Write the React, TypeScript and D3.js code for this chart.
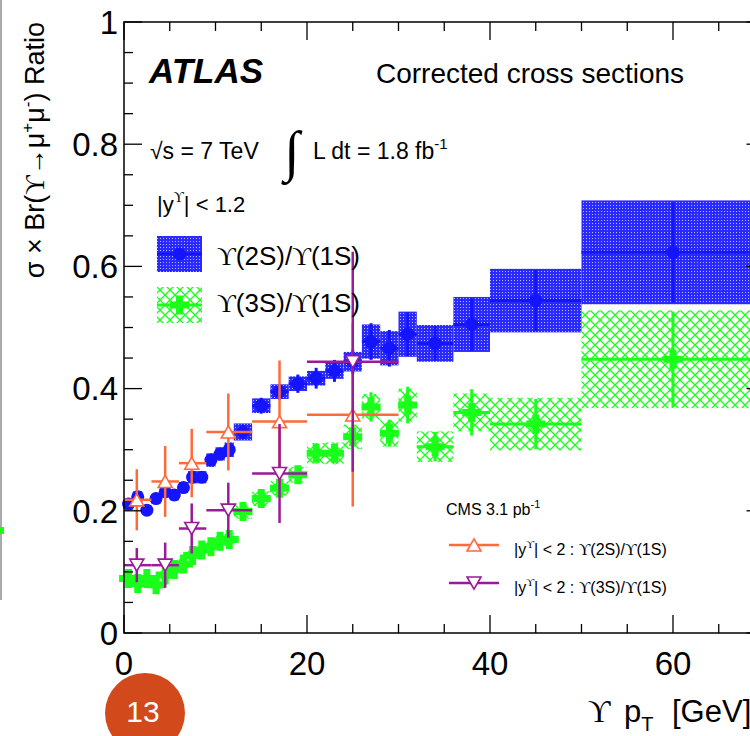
import React from "react";
import * as d3 from "d3";

const W = 750;
const H = 736;

// ATLAS |y|<1.2 bins (pT, GeV)
const binLow = [0, 1, 2, 3, 4, 5, 6, 7, 8, 9, 10, 11, 12, 14, 16, 18, 20, 22, 24, 26, 28, 30, 32, 36, 40, 50];
const binHigh = [1, 2, 3, 4, 5, 6, 7, 8, 9, 10, 11, 12, 14, 16, 18, 20, 22, 24, 26, 28, 30, 32, 36, 40, 50, 70];

// Upsilon(2S)/Upsilon(1S)
const ratio2S = [0.211, 0.223, 0.201, 0.22, 0.231, 0.226, 0.238, 0.255, 0.255, 0.283, 0.293, 0.3, 0.329, 0.372, 0.395, 0.408, 0.417, 0.429, 0.444, 0.477, 0.466, 0.489, 0.474, 0.505, 0.544, 0.623];
const stat2S = [0.008, 0.007, 0.007, 0.007, 0.007, 0.007, 0.007, 0.008, 0.008, 0.009, 0.01, 0.011, 0.012, 0.013, 0.013, 0.015, 0.017, 0.018, 0.02, 0.03, 0.03, 0.036, 0.028, 0.043, 0.05, 0.082];
const sys2S = [0.009, 0.009, 0.008, 0.008, 0.008, 0.009, 0.009, 0.01, 0.01, 0.011, 0.011, 0.012, 0.014, 0.012, 0.012, 0.012, 0.012, 0.013, 0.016, 0.028, 0.028, 0.037, 0.03, 0.045, 0.052, 0.085];

// Upsilon(3S)/Upsilon(1S)
const ratio3S = [0.089, 0.081, 0.089, 0.079, 0.095, 0.104, 0.113, 0.127, 0.136, 0.141, 0.15, 0.153, 0.199, 0.22, 0.237, 0.259, 0.294, 0.294, 0.321, 0.37, 0.327, 0.373, 0.305, 0.361, 0.342, 0.448];
const stat3S = [0.006, 0.006, 0.006, 0.006, 0.006, 0.007, 0.007, 0.008, 0.008, 0.009, 0.01, 0.011, 0.011, 0.012, 0.012, 0.013, 0.014, 0.015, 0.017, 0.024, 0.022, 0.03, 0.024, 0.038, 0.041, 0.078];
const sys3S = [0.007, 0.007, 0.007, 0.007, 0.007, 0.007, 0.008, 0.008, 0.008, 0.009, 0.009, 0.01, 0.012, 0.012, 0.012, 0.013, 0.017, 0.018, 0.02, 0.021, 0.022, 0.027, 0.025, 0.031, 0.043, 0.08];

// CMS 3.1 pb-1, |y|<2
const cmsLow = [0, 3, 6, 9, 14, 20];
const cmsHigh = [3, 6, 9, 14, 20, 30];
const cmsPt = [1.4, 4.5, 7.4, 11.4, 17, 25];
const cms2S = [0.218, 0.248, 0.278, 0.329, 0.346, 0.357];
const cms2SErr = [0.05, 0.058, 0.056, 0.063, 0.1, 0.15];
const cms3S = [0.111, 0.111, 0.171, 0.201, 0.261, 0.444];
const cms3SErr = [0.028, 0.037, 0.041, 0.045, 0.081, 0.18];

const xTicks = [0, 20, 40, 60];
const yTicks = [0, 0.2, 0.4, 0.6, 0.8, 1];
const yTickLabels = ["0", "0.2", "0.4", "0.6", "0.8", "1"];

const BLUE = "#1414ff";
const GREEN = "#1aff1a";
const ORANGE = "#ff6a3a";
const PURPLE = "#9a1a9a";
const SANS = "'Liberation Sans', Arial, Helvetica, sans-serif";
const SERIF = "'Liberation Serif', 'DejaVu Serif', serif";

const x = d3.scaleLinear().domain([0, 70]).range([124, 764.5]);
const y = d3.scaleLinear().domain([0, 1]).range([633, 22]);

const crossPath = (cx: number, cy: number, s = 19, a = 7) => {
  const h = s / 2, b = a / 2;
  const pts = [[-b, -h], [b, -h], [b, -b], [h, -b], [h, b], [b, b], [b, h], [-b, h], [-b, b], [-h, b], [-h, -b], [-b, -b]];
  return "M" + pts.map((p) => `${cx + p[0]},${cy + p[1]}`).join("L") + "Z";
};

const triPath = (cx: number, cy: number, up: boolean, s = 14) => {
  const h = s * 0.866;
  const d = up ? 1 : -1;
  return `M${cx},${cy - (d * h) / 2}L${cx - s / 2},${cy + (d * h) / 2}L${cx + s / 2},${cy + (d * h) / 2}Z`;
};

const Ups = ({ size }: { size?: number }) => (
  <tspan fontFamily={SERIF} fontSize={size}>ϒ</tspan>
);

export default function App() {
  const mid = (i: number) => (binLow[i] + binHigh[i]) / 2;
  const minorX = d3.range(0, 70.01, 5);
  const minorY = d3.range(0, 1.001, 0.05);

  return (
    <svg width={W} height={H} style={{ position: "absolute", left: 0, top: 0, background: "#fff" }}>
      <defs>
        <pattern id="dots" width="3" height="3" patternUnits="userSpaceOnUse">
          <rect width="3" height="3" fill="#2a2aff" />
          <rect x="1" y="1" width="1" height="1" fill="#b8b8ff" />
        </pattern>
        <pattern id="hatch" width="10" height="10" patternUnits="userSpaceOnUse">
          <path d="M0,0L10,10M10,0L0,10" stroke={GREEN} strokeWidth="1.3" />
        </pattern>
      </defs>

      {/* neighbouring slide edge */}
      <line x1={1} x2={1} y1={0} y2={600} stroke="#aaa" strokeWidth={2} />
      <rect x={0} y={527} width={4} height={7} fill={GREEN} />

      {/* systematic boxes */}
      {binLow.map((lo, i) => (
        <rect key={"b2" + i} x={x(lo)} width={x(binHigh[i]) - x(lo)} y={y(ratio2S[i] + sys2S[i])}
          height={y(ratio2S[i] - sys2S[i]) - y(ratio2S[i] + sys2S[i])} fill="url(#dots)" />
      ))}
      {binLow.map((lo, i) => (
        <rect key={"b3" + i} x={x(lo)} width={x(binHigh[i]) - x(lo)} y={y(ratio3S[i] + sys3S[i])}
          height={y(ratio3S[i] - sys3S[i]) - y(ratio3S[i] + sys3S[i])} fill="url(#hatch)" />
      ))}

      {/* 3S points */}
      {binLow.map((lo, i) => (
        <g key={"p3" + i}>
          <line x1={x(lo)} x2={x(binHigh[i])} y1={y(ratio3S[i])} y2={y(ratio3S[i])} stroke={GREEN} strokeWidth={3} />
          <line x1={x(mid(i))} x2={x(mid(i))} y1={y(ratio3S[i] - stat3S[i])} y2={y(ratio3S[i] + stat3S[i])} stroke={GREEN} strokeWidth={3} />
          <path d={crossPath(x(mid(i)), y(ratio3S[i]))} fill={GREEN} />
        </g>
      ))}

      {/* 2S points */}
      {binLow.map((lo, i) => (
        <g key={"p2" + i}>
          <line x1={x(lo)} x2={x(binHigh[i])} y1={y(ratio2S[i])} y2={y(ratio2S[i])} stroke={BLUE} strokeWidth={3} />
          <line x1={x(mid(i))} x2={x(mid(i))} y1={y(ratio2S[i] - stat2S[i])} y2={y(ratio2S[i] + stat2S[i])} stroke={BLUE} strokeWidth={3} />
          <circle cx={x(mid(i))} cy={y(ratio2S[i])} r={6.5} fill={BLUE} />
        </g>
      ))}

      {/* CMS */}
      {cmsPt.map((pt, i) => (
        <g key={"c2" + i} stroke={ORANGE} strokeWidth={2.5}>
          <line x1={x(cmsLow[i])} x2={x(cmsHigh[i])} y1={y(cms2S[i])} y2={y(cms2S[i])} />
          <line x1={x(pt)} x2={x(pt)} y1={y(cms2S[i] - cms2SErr[i])} y2={y(cms2S[i] + cms2SErr[i])} />
          <path d={triPath(x(pt), y(cms2S[i]), true)} fill="#fff" strokeWidth={1.6} />
        </g>
      ))}
      {cmsPt.map((pt, i) => (
        <g key={"c3" + i} stroke={PURPLE} strokeWidth={2.5}>
          <line x1={x(cmsLow[i])} x2={x(cmsHigh[i])} y1={y(cms3S[i])} y2={y(cms3S[i])} />
          <line x1={x(pt)} x2={x(pt)} y1={y(cms3S[i] - cms3SErr[i])} y2={y(cms3S[i] + cms3SErr[i])} />
          <path d={triPath(x(pt), y(cms3S[i]), false)} fill="#fff" strokeWidth={1.6} />
        </g>
      ))}

      {/* frame and ticks */}
      <rect x={x(0)} y={y(1)} width={x(70) - x(0)} height={y(0) - y(1)} fill="none" stroke="#000" strokeWidth={1.5} />
      {minorX.map((v) => {
        const len = v % 20 === 0 ? 18 : 9;
        return (
          <g key={"tx" + v} stroke="#000" strokeWidth={1.3}>
            <line x1={x(v)} x2={x(v)} y1={y(0)} y2={y(0) - len} />
            <line x1={x(v)} x2={x(v)} y1={y(1)} y2={y(1) + len} />
          </g>
        );
      })}
      {minorY.map((v, k) => {
        const len = k % 4 === 0 ? 18 : 9;
        return (
          <g key={"ty" + k} stroke="#000" strokeWidth={1.3}>
            <line x1={x(0)} x2={x(0) + len} y1={y(v)} y2={y(v)} />
            <line x1={x(70)} x2={x(70) - len} y1={y(v)} y2={y(v)} />
          </g>
        );
      })}
      {yTicks.map((v, k) => (
        <text key={"yl" + k} x={118} y={y(v)} dy="0.36em" textAnchor="end" fontFamily={SANS} fontSize={33}>
          {yTickLabels[k]}
        </text>
      ))}
      {xTicks.map((v) => (
        <text key={"xl" + v} x={x(v)} y={675} textAnchor="middle" fontFamily={SANS} fontSize={33}>
          {v}
        </text>
      ))}

      {/* axis titles */}
      <text transform="translate(44,22) rotate(-90)" textAnchor="end" fontFamily={SANS} fontSize={27}>
        σ × Br(<Ups />→μ<tspan dy={-11} fontSize={17}>+</tspan>
        <tspan dy={11}>μ</tspan>
        <tspan dy={-11} fontSize={17}>-</tspan>
        <tspan dy={11}>) Ratio</tspan>
      </text>
      <text y={722} fontFamily={SANS} fontSize={31}>
        <tspan x={588} fontFamily={SERIF}>ϒ</tspan>
        <tspan x={624}>p</tspan>
        <tspan dy={9} fontSize={20}>T</tspan>
        <tspan dy={-9} x={672}>[GeV]</tspan>
      </text>

      {/* labels */}
      <text x={149} y={83} fontFamily={SANS} fontSize={35} fontWeight="bold" fontStyle="italic">ATLAS</text>
      <text x={376} y={83} fontFamily={SANS} fontSize={28}>Corrected cross sections</text>
      <text x={150} y={159} fontFamily={SANS} fontSize={23}>√s = 7 TeV</text>
      <text x={284} y={170} fontFamily={SERIF} fontSize={56}>∫</text>
      <text x={313} y={159} fontFamily={SANS} fontSize={23}>
        L dt = 1.8 fb<tspan dy={-10} fontSize={15}>-1</tspan>
      </text>
      <text x={157} y={212} fontFamily={SANS} fontSize={22}>
        |y<tspan dy={-10} fontSize={14} fontFamily={SERIF}>ϒ</tspan>
        <tspan dy={10}>| &lt; 1.2</tspan>
      </text>

      {/* ATLAS legend */}
      <rect x={157} y={236} width={45} height={36} fill="url(#dots)" />
      <line x1={157} x2={202} y1={254} y2={254} stroke={BLUE} strokeWidth={3} />
      <circle cx={179.5} cy={254} r={6.5} fill={BLUE} />
      <text x={217} y={265} fontFamily={SANS} fontSize={26}>
        <Ups />(2S)/<Ups />(1S)
      </text>
      <rect x={157} y={287} width={45} height={36} fill="url(#hatch)" />
      <line x1={157} x2={202} y1={305} y2={305} stroke={GREEN} strokeWidth={3} />
      <path d={crossPath(179.5, 305)} fill={GREEN} />
      <text x={217} y={312} fontFamily={SANS} fontSize={26}>
        <Ups />(3S)/<Ups />(1S)
      </text>

      {/* CMS legend */}
      <text x={446} y={515} fontFamily={SANS} fontSize={16}>
        CMS 3.1 pb<tspan dy={-7} fontSize={11}>-1</tspan>
      </text>
      <line x1={449} x2={499} y1={545} y2={545} stroke={ORANGE} strokeWidth={2.5} />
      <path d={triPath(474, 545, true)} fill="#fff" stroke={ORANGE} strokeWidth={1.6} />
      <text x={514} y={555} fontFamily={SANS} fontSize={16}>
        |y<tspan dy={-7} fontSize={11} fontFamily={SERIF}>ϒ</tspan>
        <tspan dy={7}>| &lt; 2 : </tspan><Ups />(2S)/<Ups />(1S)
      </text>
      <line x1={449} x2={499} y1={583} y2={583} stroke={PURPLE} strokeWidth={2.5} />
      <path d={triPath(474, 583, false)} fill="#fff" stroke={PURPLE} strokeWidth={1.6} />
      <text x={514} y={593} fontFamily={SANS} fontSize={16}>
        |y<tspan dy={-7} fontSize={11} fontFamily={SERIF}>ϒ</tspan>
        <tspan dy={7}>| &lt; 2 : </tspan><Ups />(3S)/<Ups />(1S)
      </text>

      {/* slide page number */}
      <circle cx={145} cy={713} r={40} fill="#d2491b" />
      <text x={143} y={722} textAnchor="middle" fill="#fff" fontFamily={SANS} fontSize={30}>13</text>
    </svg>
  );
}
